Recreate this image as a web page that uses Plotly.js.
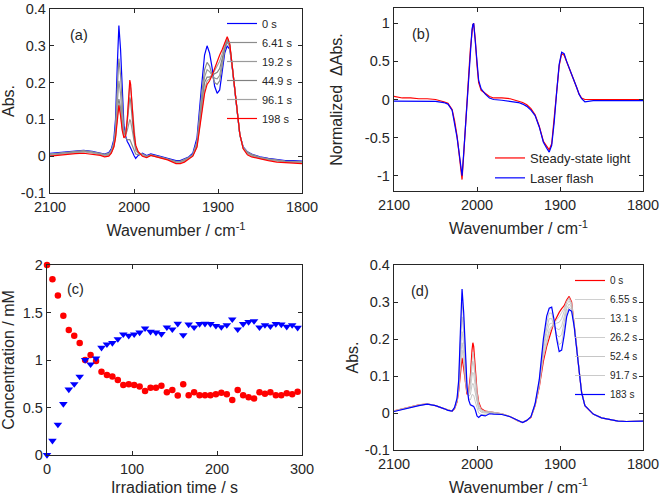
<!DOCTYPE html>
<html>
<head>
<meta charset="utf-8">
<script src="https://cdn.plot.ly/plotly-3.0.1.min.js"></script>
<style>html,body{margin:0;padding:0;background:#fff;}#chart{width:661px;height:496px;}</style>
</head>
<body>
<div id="chart"></div>
<script>
// ---------- shared wavenumber grid (cm-1) ----------
const wavenumber = [2100,2090,2080,2070,2060,2050,2040,2035,2030,2027,2024,2022,2020,2018,2016,2014,2012,2010,2008,2006,2005,2004,2002,2000,1998,1995,1990,1985,1980,1970,1960,1950,1945,1940,1935,1930,1925,1920,1916,1913,1910,1907,1904,1901,1898,1895,1892,1889,1886,1883,1880,1877,1874,1870,1865,1860,1850,1840,1830,1820,1810,1800];

// ---------- panel (a) ----------
const aLabels = ['0 s','6.41 s','19.2 s','44.9 s','96.1 s','198 s'];
const a_0s = [.008,.010,.012,.015,.016,.013,.008,.006,.010,
  .020,.045,.10,.24,.355,.29,.16,.085,.055,.04,.032,.028,.022,.012,.002,-.006,.002,
  .008,.002,.006,.0,-.005,-.012,-.012,-.008,-.002,.008,
  .05,.18,.275,.30,.28,.24,.19,.171,.18,.23,.28,.30,.29,.24,.18,.115,.058,.025,
  .012,.006,-.002,-.006,-.01,-.012,-.012,-.013];
const a_641s = [.006,.008,.010,.013,.015,.012,.007,.005,.008,
  .016,.038,.08,.18,.265,.22,.125,.07,.05,.045,.045,.045,.04,.028,.015,.006,.004,
  .006,.0,.004,-.002,-.007,-.014,-.014,-.01,-.004,.005,
  .04,.155,.235,.255,.245,.22,.2,.195,.205,.245,.29,.31,.298,.243,.18,.115,.058,.024,
  .011,.005,-.003,-.007,-.011,-.013,-.014,-.015];
const a_192s = [.005,.007,.009,.012,.014,.011,.006,.004,.006,
  .014,.032,.065,.14,.205,.17,.10,.062,.058,.07,.095,.10,.095,.065,.035,.016,.008,
  .005,-.001,.003,-.002,-.008,-.015,-.015,-.011,-.005,.003,
  .035,.14,.215,.235,.23,.22,.212,.21,.22,.255,.295,.315,.30,.244,.182,.116,.058,.023,
  .01,.004,-.004,-.008,-.012,-.014,-.015,-.016];
const a_449s = [.004,.006,.008,.011,.013,.010,.005,.003,.004,
  .011,.028,.055,.11,.155,.13,.08,.058,.062,.095,.145,.16,.15,.10,.05,.024,.01,
  .004,-.002,.003,-.002,-.008,-.016,-.016,-.012,-.006,.002,
  .03,.125,.2,.215,.215,.22,.225,.228,.238,.265,.30,.32,.302,.245,.183,.117,.058,.022,
  .009,.003,-.005,-.009,-.013,-.015,-.016,-.017];
const a_961s = [.003,.005,.007,.010,.012,.009,.004,.002,.003,
  .010,.026,.052,.105,.145,.118,.074,.054,.06,.10,.172,.195,.185,.125,.062,.028,.011,
  .003,-.003,.002,-.003,-.009,-.017,-.017,-.013,-.007,.001,
  .027,.11,.18,.205,.21,.22,.233,.245,.258,.278,.305,.322,.303,.245,.184,.118,.059,.021,
  .007,.001,-.006,-.01,-.014,-.016,-.017,-.018];
const a_198s = [.0,.003,.005,.007,.008,.006,.002,-.002,.0,
  .008,.025,.05,.10,.138,.11,.07,.05,.055,.10,.18,.207,.195,.13,.065,.03,.012,
  .0,-.004,.002,-.003,-.01,-.02,-.02,-.016,-.008,.0,
  .025,.10,.17,.195,.205,.22,.24,.26,.275,.29,.31,.325,.305,.245,.185,.12,.06,.02,
  .004,-.002,-.008,-.012,-.016,-.018,-.019,-.02];

// ---------- panel (b) ----------
const bLabels = ['Steady-state light','Laser flash'];
const b_steady = [.04,.02,.02,.01,.01,.0,-.03,-.05,-.13,
  -.28,-.48,-.65,-.87,-1.05,-.72,-.33,-.03,.32,.66,.93,.98,1.0,.78,.45,.22,.12,
  .08,.04,.02,.02,.01,-.02,-.04,-.07,-.12,-.2,
  -.35,-.55,-.62,-.66,-.58,-.28,.1,.44,.6,.58,.5,.42,.34,.26,.16,.07,.02,.0,
  .0,.0,.0,.0,.0,.0,.0,.0];
const b_laser = [-.02,-.02,-.02,-.02,-.02,-.025,-.04,-.06,-.14,
  -.3,-.5,-.66,-.86,-1.0,-.7,-.35,-.05,.3,.65,.92,.98,1.0,.75,.45,.25,.14,
  .07,.02,.0,-.01,-.02,-.04,-.06,-.09,-.14,-.21,
  -.36,-.56,-.64,-.69,-.6,-.3,.1,.46,.62,.6,.5,.42,.34,.26,.16,.07,.01,-.03,
  -.02,-.015,-.015,-.015,-.015,-.015,-.015,-.015];

// ---------- panel (c) ----------
const irradTime = [0,6.41,12.82,19.23,25.64,32.05,38.46,44.87,51.28,57.69,64.1,70.51,76.92,83.33,89.74,96.15,102.56,108.97,115.38,121.79,128.2,134.61,141.02,147.43,153.84,160.25,166.66,173.07,179.48,185.89,192.3,198.71,205.12,211.53,217.94,224.35,230.76,237.17,243.58,249.99,256.4,262.81,269.22,275.63,282.04,288.45,294.86];
const concRed = [2.0,1.85,1.68,1.467,1.316,1.256,1.179,1.0,1.053,0.99,0.877,0.842,0.825,0.79,0.737,0.744,0.737,0.72,0.674,0.709,0.709,0.73,0.66,0.684,0.625,0.744,0.63,0.66,0.63,0.63,0.63,0.64,0.656,0.64,0.58,0.684,0.63,0.607,0.596,0.66,0.646,0.66,0.63,0.63,0.65,0.64,0.667];
const concBlue = [0,0.15,0.32,0.537,0.69,0.747,0.825,1.0,0.954,1.018,1.13,1.165,1.18,1.22,1.27,1.256,1.27,1.29,1.333,1.298,1.29,1.274,1.344,1.323,1.382,1.263,1.375,1.344,1.38,1.382,1.38,1.36,1.347,1.368,1.428,1.323,1.38,1.4,1.41,1.344,1.368,1.354,1.38,1.375,1.35,1.368,1.34];

// ---------- panel (d) ----------
const dLabels = ['0 s','6.55 s','13.1 s','26.2 s','52.4 s','91.7 s','183 s'];
const d_0s = [.006,.012,.018,.022,.025,.020,.012,.008,.005,
  .012,.03,.06,.115,.149,.12,.075,.05,.06,.10,.17,.19,.18,.12,.06,.03,.012,
  .005,.003,.002,-.002,-.01,-.022,-.025,-.02,-.012,.02,
  .07,.14,.18,.205,.225,.245,.26,.272,.282,.29,.305,.315,.30,.245,.18,.115,.058,.02,
  .008,-.003,-.013,-.018,-.022,-.023,-.022,-.022];
const d_655s = [.006,.012,.017,.022,.025,.020,.012,.008,.005,
  .012,.032,.065,.13,.17,.14,.085,.055,.058,.09,.15,.165,.155,.105,.052,.026,.01,
  .004,.004,.002,-.002,-.01,-.022,-.025,-.02,-.011,.021,
  .072,.15,.19,.215,.23,.243,.252,.26,.27,.283,.302,.312,.298,.243,.179,.114,.057,.02,
  .008,-.003,-.013,-.018,-.022,-.023,-.022,-.022];
const d_131s = [.005,.011,.017,.021,.025,.020,.012,.008,.005,
  .013,.034,.07,.15,.19,.16,.095,.058,.055,.08,.125,.14,.13,.09,.045,.022,.008,
  .003,.004,.001,-.002,-.01,-.022,-.025,-.02,-.011,.022,
  .075,.16,.2,.225,.235,.24,.243,.245,.255,.275,.3,.308,.295,.242,.178,.113,.057,.02,
  .008,-.003,-.013,-.018,-.022,-.023,-.022,-.022];
const d_262s = [.005,.011,.017,.021,.024,.020,.012,.008,.005,
  .013,.035,.075,.17,.22,.185,.11,.062,.05,.065,.1,.11,.105,.07,.035,.016,.005,
  .002,.003,.001,-.003,-.01,-.022,-.025,-.02,-.011,.023,
  .078,.17,.215,.24,.243,.235,.228,.225,.235,.26,.292,.303,.29,.24,.177,.112,.056,.02,
  .008,-.003,-.013,-.018,-.022,-.023,-.022,-.022];
const d_524s = [.005,.011,.016,.021,.024,.020,.012,.007,.005,
  .014,.037,.08,.19,.26,.215,.125,.065,.045,.05,.075,.08,.075,.05,.025,.01,.002,
  .0,.002,.0,-.003,-.01,-.022,-.025,-.02,-.011,.024,
  .082,.18,.23,.255,.255,.23,.212,.205,.212,.245,.282,.295,.285,.238,.176,.111,.056,.02,
  .008,-.003,-.013,-.018,-.022,-.023,-.022,-.022];
const d_917s = [.004,.010,.016,.020,.024,.020,.012,.007,.005,
  .015,.038,.085,.205,.30,.245,.14,.068,.04,.035,.05,.05,.048,.03,.012,.0,-.004,
  -.004,.0,-.001,-.004,-.01,-.022,-.026,-.02,-.01,.024,
  .086,.19,.245,.27,.27,.24,.205,.185,.19,.228,.27,.287,.28,.236,.175,.11,.055,.02,
  .008,-.003,-.013,-.018,-.022,-.023,-.022,-.022];
const d_183s = [.004,.010,.016,.020,.024,.020,.012,.007,.005,
  .015,.04,.09,.22,.335,.27,.15,.07,.035,.022,.02,.02,.018,.008,-.008,-.012,-.006,
  -.008,-.002,-.003,-.004,-.01,-.022,-.026,-.02,-.01,.025,
  .09,.2,.262,.283,.286,.25,.2,.166,.17,.21,.26,.28,.275,.235,.175,.11,.055,.02,
  .008,-.003,-.013,-.018,-.022,-.023,-.022,-.022];

// ---------- tick labels ----------
const wnTicks = [2100,2000,1900,1800];
const wnTickText = ['2100','2000','1900','1800'];
const absTicks = [-0.1,0,0.1,0.2,0.3,0.4];
const absTickText = ['-0.1','0','0.1','0.2','0.3','0.4'];
const normTicks = [-1,-0.5,0,0.5,1];
const normTickText = ['-1','-0.5','0','0.5','1'];
const concTicks = [0,0.5,1,1.5,2];
const concTickText = ['0','0.5','1','1.5','2'];
const timeTicks = [0,100,200,300];
const timeTickText = ['0','100','200','300'];

// ---------- styling ----------
const FONT = 'Arial, "Liberation Sans", Helvetica, sans-serif';
const INK = '#262626';
const W = 661, H = 496;
const EPS = 1e-6;
function px2x(p){return p/W;}
function px2y(p){return 1-p/H;}
function axis(extra){
  return Object.assign({
    showline:true, mirror:'ticks', linecolor:INK, linewidth:1.3,
    ticks:'inside', ticklen:4, tickwidth:1, tickcolor:INK,
    showgrid:false, zeroline:false, tickmode:'array', ticklabeloverflow:'allow',
    tickfont:{family:FONT,size:14.5,color:INK}
  }, extra);
}
function ttl(text, standoff){
  return {text:text, font:{family:FONT,size:16,color:INK}, standoff:standoff};
}

const traces = [];
// panel (a)
const aSeries = [a_0s,a_641s,a_192s,a_449s,a_961s,a_198s];
const aColors = ['#0000ff','#8c8c8c','#9a9a9a','#808080','#a3a3a3','#ff0000'];
aSeries.forEach((s,i)=>traces.push({type:'scatter',mode:'lines',x:wavenumber,y:s,name:aLabels[i],
  xaxis:'x',yaxis:'y',legend:'legend',line:{color:aColors[i],width:1.2}}));
// panel (b)
traces.push({type:'scatter',mode:'lines',x:wavenumber,y:b_steady,name:bLabels[0],xaxis:'x2',yaxis:'y2',legend:'legend2',line:{color:'#ff0000',width:1.2}});
traces.push({type:'scatter',mode:'lines',x:wavenumber,y:b_laser,name:bLabels[1],xaxis:'x2',yaxis:'y2',legend:'legend2',line:{color:'#0000ff',width:1.2}});
// panel (c)
traces.push({type:'scatter',mode:'markers',x:irradTime,y:concRed,xaxis:'x3',yaxis:'y3',showlegend:false,cliponaxis:false,
  marker:{symbol:'circle',size:6.5,color:'#ff0000',line:{width:0}}});
traces.push({type:'scatter',mode:'markers',x:irradTime,y:concBlue,xaxis:'x3',yaxis:'y3',showlegend:false,cliponaxis:false,
  marker:{symbol:'triangle-down',size:7.5,color:'#0000ff',line:{width:0}}});
// panel (d)
const dSeries = [d_0s,d_655s,d_131s,d_262s,d_524s,d_917s,d_183s];
const dColors = ['#ff0000','#c4c4c4','#bcbcbc','#c0c0c0','#b8b8b8','#bdbdbd','#0000ff'];
dSeries.forEach((s,i)=>traces.push({type:'scatter',mode:'lines',x:wavenumber,y:s,name:dLabels[i],
  xaxis:'x4',yaxis:'y4',legend:'legend3',line:{color:dColors[i],width:(i===0||i===6)?1.2:0.8}}));

const layout = {
  width:W, height:H, margin:{l:0,r:0,t:0,b:0},
  paper_bgcolor:'#fff', plot_bgcolor:'#fff',
  font:{family:FONT,color:INK},
  showlegend:true,
  xaxis: axis({domain:[px2x(50),px2x(302)], range:[2100+EPS,1800-EPS], tickvals:wnTicks, ticktext:wnTickText, anchor:'y', title:ttl('Wavenumber / cm<sup>-1</sup>',11)}),
  yaxis: axis({domain:[px2y(193),px2y(9)], range:[-0.1-EPS,0.4+EPS], tickvals:absTicks, ticktext:absTickText, anchor:'x', title:ttl('Abs.',2)}),
  xaxis2: axis({domain:[px2x(394),px2x(643)], range:[2100+EPS,1800-EPS], tickvals:wnTicks, ticktext:wnTickText, anchor:'y2', title:ttl('Wavenumber / cm<sup>-1</sup>',11)}),
  yaxis2: axis({domain:[px2y(191),px2y(8)], range:[-1.2,1.2], tickvals:normTicks, ticktext:normTickText, anchor:'x2', title:ttl('Normalized \u00a0\u0394Abs.',18)}),
  xaxis3: axis({domain:[px2x(47),px2x(302)], range:[0-EPS,300+EPS], tickvals:timeTicks, ticktext:timeTickText, anchor:'y3', title:ttl('Irradiation time / s',11)}),
  yaxis3: axis({domain:[px2y(455),px2y(265)], range:[0-EPS,2+EPS], tickvals:concTicks, ticktext:concTickText, anchor:'x3', title:ttl('Concentration / mM',6)}),
  xaxis4: axis({domain:[px2x(394),px2x(643)], range:[2100+EPS,1800-EPS], tickvals:wnTicks, ticktext:wnTickText, anchor:'y4', title:ttl('Wavenumber / cm<sup>-1</sup>',11)}),
  yaxis4: axis({domain:[px2y(450),px2y(265)], range:[-0.1-EPS,0.4+EPS], tickvals:absTicks, ticktext:absTickText, anchor:'x4', title:ttl('Abs.',2)}),
  legend:{x:px2x(222), y:px2y(9), xanchor:'left', yanchor:'top', bgcolor:'rgba(0,0,0,0)', borderwidth:0,
    font:{family:FONT,size:11,color:INK}, itemwidth:30, tracegroupgap:0},
  legend2:{x:px2x(490), y:px2y(193), xanchor:'left', yanchor:'bottom', bgcolor:'rgba(0,0,0,0)', borderwidth:0,
    font:{family:FONT,size:13,color:INK}, itemwidth:30, tracegroupgap:0},
  legend3:{x:px2x(570), y:px2y(266), xanchor:'left', yanchor:'top', bgcolor:'rgba(0,0,0,0)', borderwidth:0,
    font:{family:FONT,size:10,color:INK}, itemwidth:30, tracegroupgap:0},
  annotations:[
    {text:'(a)', xref:'x domain', yref:'y domain', x:0.073, y:0.914, showarrow:false, font:{family:FONT,size:14.5,color:INK}},
    {text:'(b)', xref:'x2 domain', yref:'y2 domain', x:0.064, y:0.914, showarrow:false, font:{family:FONT,size:14.5,color:INK}},
    {text:'(c)', xref:'x3 domain', yref:'y3 domain', x:0.07, y:0.926, showarrow:false, font:{family:FONT,size:14.5,color:INK}},
    {text:'(d)', xref:'x4 domain', yref:'y4 domain', x:0.062, y:0.914, showarrow:false, font:{family:FONT,size:14.5,color:INK}}
  ]
};

Plotly.newPlot('chart', traces, layout, {staticPlot:true, displayModeBar:false});
</script>
</body>
</html>
